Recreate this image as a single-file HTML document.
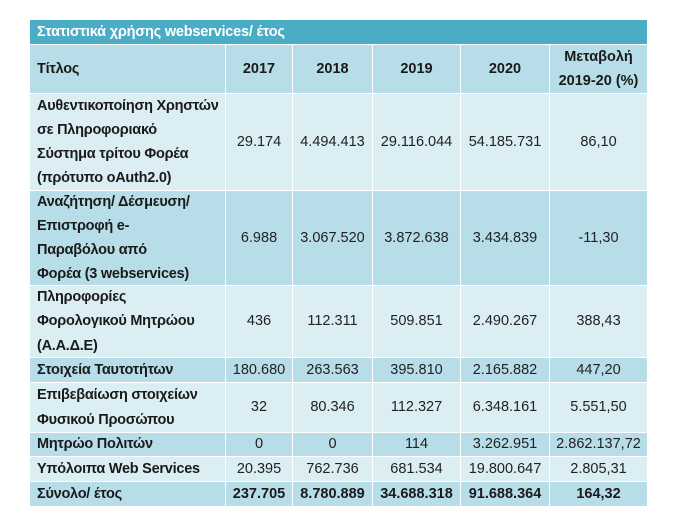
<!DOCTYPE html>
<html>
<head>
<meta charset="utf-8">
<style>
html,body{margin:0;padding:0;background:#fff;}
body{width:684px;height:520px;position:relative;overflow:hidden;font-family:"Liberation Sans","DejaVu Sans",sans-serif;font-size:14.5px;color:#222;}
.c{position:absolute;box-sizing:border-box;display:flex;align-items:center;justify-content:center;text-align:center;line-height:24.2px;white-space:nowrap;border-left:1px solid #fff;border-top:1px solid #fff;}
.l{justify-content:flex-start;text-align:left;padding-left:7px;border-left:none;}
.b{font-weight:bold;color:#1a1a1a;}
.d{background:#b7dde8;}
.e{background:#daeef3;}
.t{position:absolute;left:30px;top:20px;width:617px;height:24px;background:#4bacc6;color:#fff;font-weight:bold;line-height:24px;padding-left:7px;box-sizing:border-box;white-space:nowrap;letter-spacing:-0.2px;}
.l.b{letter-spacing:-0.25px;}
</style>
</head>
<body>
<div class="t">Στατιστικά χρήσης webservices/ έτος</div>

<!-- header row 44-93 -->
<div class="c l b d" style="left:30px;top:44px;width:195px;height:49px;">Τίτλος</div>
<div class="c b d" style="left:225px;top:44px;width:67px;height:49px;">2017</div>
<div class="c b d" style="left:292px;top:44px;width:80px;height:49px;">2018</div>
<div class="c b d" style="left:372px;top:44px;width:88px;height:49px;">2019</div>
<div class="c b d" style="left:460px;top:44px;width:89px;height:49px;">2020</div>
<div class="c b d" style="left:549px;top:44px;width:98px;height:49px;">Μεταβολή<br>2019-20 (%)</div>

<!-- row 1 93-190 -->
<div class="c l b e" style="left:30px;top:93px;width:195px;height:97px;">Αυθεντικοποίηση Χρηστών<br>σε Πληροφοριακό<br>Σύστημα τρίτου Φορέα<br>(πρότυπο oAuth2.0)</div>
<div class="c e" style="left:225px;top:93px;width:67px;height:97px;">29.174</div>
<div class="c e" style="left:292px;top:93px;width:80px;height:97px;">4.494.413</div>
<div class="c e" style="left:372px;top:93px;width:88px;height:97px;">29.116.044</div>
<div class="c e" style="left:460px;top:93px;width:89px;height:97px;">54.185.731</div>
<div class="c e" style="left:549px;top:93px;width:98px;height:97px;">86,10</div>

<!-- row 2 190-285 -->
<div class="c l b d" style="left:30px;top:190px;width:195px;height:95px;">Αναζήτηση/ Δέσμευση/<br>Επιστροφή e-<br>Παραβόλου από<br>Φορέα (3 webservices)</div>
<div class="c d" style="left:225px;top:190px;width:67px;height:95px;">6.988</div>
<div class="c d" style="left:292px;top:190px;width:80px;height:95px;">3.067.520</div>
<div class="c d" style="left:372px;top:190px;width:88px;height:95px;">3.872.638</div>
<div class="c d" style="left:460px;top:190px;width:89px;height:95px;">3.434.839</div>
<div class="c d" style="left:549px;top:190px;width:98px;height:95px;">-11,30</div>

<!-- row 3 285-357 -->
<div class="c l b e" style="left:30px;top:285px;width:195px;height:72px;">Πληροφορίες<br>Φορολογικού Μητρώου<br>(Α.Α.Δ.Ε)</div>
<div class="c e" style="left:225px;top:285px;width:67px;height:72px;">436</div>
<div class="c e" style="left:292px;top:285px;width:80px;height:72px;">112.311</div>
<div class="c e" style="left:372px;top:285px;width:88px;height:72px;">509.851</div>
<div class="c e" style="left:460px;top:285px;width:89px;height:72px;">2.490.267</div>
<div class="c e" style="left:549px;top:285px;width:98px;height:72px;">388,43</div>

<!-- row 4 357-382 -->
<div class="c l b d" style="left:30px;top:357px;width:195px;height:25px;">Στοιχεία Ταυτοτήτων</div>
<div class="c d" style="left:225px;top:357px;width:67px;height:25px;">180.680</div>
<div class="c d" style="left:292px;top:357px;width:80px;height:25px;">263.563</div>
<div class="c d" style="left:372px;top:357px;width:88px;height:25px;">395.810</div>
<div class="c d" style="left:460px;top:357px;width:89px;height:25px;">2.165.882</div>
<div class="c d" style="left:549px;top:357px;width:98px;height:25px;">447,20</div>

<!-- row 5 382-432 -->
<div class="c l b e" style="left:30px;top:382px;width:195px;height:50px;">Επιβεβαίωση στοιχείων<br>Φυσικού Προσώπου</div>
<div class="c e" style="left:225px;top:382px;width:67px;height:50px;">32</div>
<div class="c e" style="left:292px;top:382px;width:80px;height:50px;">80.346</div>
<div class="c e" style="left:372px;top:382px;width:88px;height:50px;">112.327</div>
<div class="c e" style="left:460px;top:382px;width:89px;height:50px;">6.348.161</div>
<div class="c e" style="left:549px;top:382px;width:98px;height:50px;">5.551,50</div>

<!-- row 6 432-456 -->
<div class="c l b d" style="left:30px;top:432px;width:195px;height:24px;">Μητρώο Πολιτών</div>
<div class="c d" style="left:225px;top:432px;width:67px;height:24px;">0</div>
<div class="c d" style="left:292px;top:432px;width:80px;height:24px;">0</div>
<div class="c d" style="left:372px;top:432px;width:88px;height:24px;">114</div>
<div class="c d" style="left:460px;top:432px;width:89px;height:24px;">3.262.951</div>
<div class="c d" style="left:549px;top:432px;width:98px;height:24px;">2.862.137,72</div>

<!-- row 7 456-481 -->
<div class="c l b e" style="left:30px;top:456px;width:195px;height:25px;">Υπόλοιπα Web Services</div>
<div class="c e" style="left:225px;top:456px;width:67px;height:25px;">20.395</div>
<div class="c e" style="left:292px;top:456px;width:80px;height:25px;">762.736</div>
<div class="c e" style="left:372px;top:456px;width:88px;height:25px;">681.534</div>
<div class="c e" style="left:460px;top:456px;width:89px;height:25px;">19.800.647</div>
<div class="c e" style="left:549px;top:456px;width:98px;height:25px;">2.805,31</div>

<!-- row 8 481-506 -->
<div class="c l b d" style="left:30px;top:481px;width:195px;height:25px;">Σύνολο/ έτος</div>
<div class="c b d" style="left:225px;top:481px;width:67px;height:25px;">237.705</div>
<div class="c b d" style="left:292px;top:481px;width:80px;height:25px;">8.780.889</div>
<div class="c b d" style="left:372px;top:481px;width:88px;height:25px;">34.688.318</div>
<div class="c b d" style="left:460px;top:481px;width:89px;height:25px;">91.688.364</div>
<div class="c b d" style="left:549px;top:481px;width:98px;height:25px;">164,32</div>
</body>
</html>
